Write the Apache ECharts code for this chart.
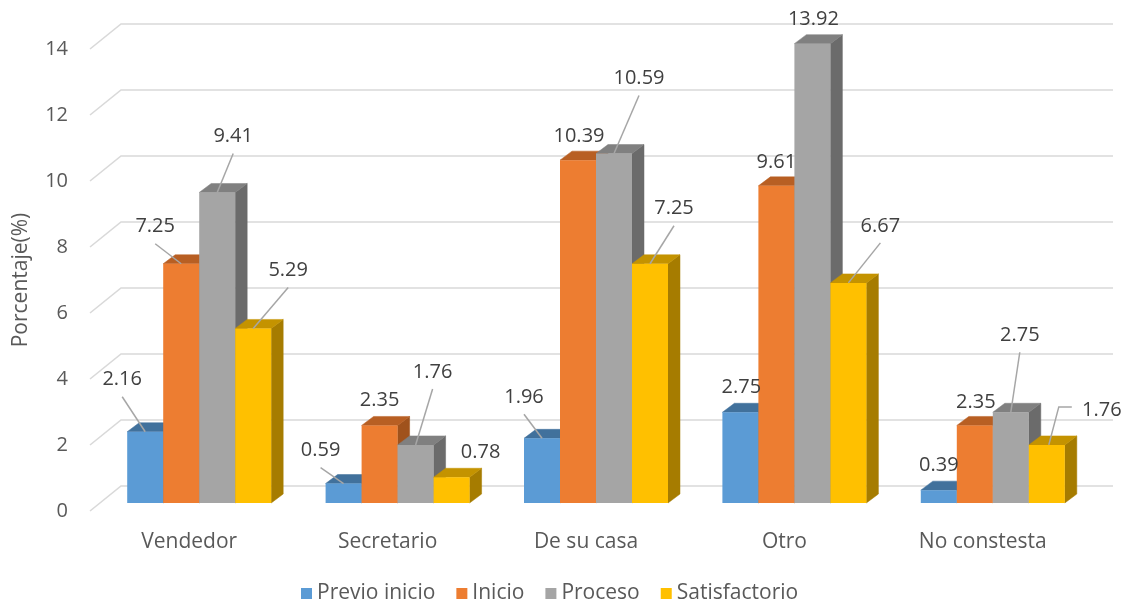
<!DOCTYPE html>
<html>
<head>
<meta charset="utf-8">
<script src="https://cdn.jsdelivr.net/npm/echarts@6/dist/echarts.min.js"></script>
<style>
html,body{margin:0;padding:0;background:#fff;}
#chart{width:1127px;height:605px;}
</style>
</head>
<body>
<div id="chart"></div>
<script>
// ---- data ----
const categories = ['Vendedor', 'Secretario', 'De su casa', 'Otro', 'No constesta'];
const seriesNames = ['Previo inicio', 'Inicio', 'Proceso', 'Satisfactorio'];
const previoInicio = [2.16, 0.59, 1.96, 2.75, 0.39];
const inicio = [7.25, 2.35, 10.39, 9.61, 2.35];
const proceso = [9.41, 1.76, 10.59, 13.92, 2.75];
const satisfactorio = [5.29, 0.78, 7.25, 6.67, 1.76];
const yTicks = [0, 2, 4, 6, 8, 10, 12, 14];
const axisTitle = 'Porcentaje(%)';

// ---- styling / layout (not data) ----
const FONT = '"Open Sans", "Liberation Sans", sans-serif';
const palette = [
  { front: '#5B9BD5', top: '#41719C', side: '#3A6890' },
  { front: '#ED7D31', top: '#B85F23', side: '#A0521C' },
  { front: '#A5A5A5', top: '#808080', side: '#6B6B6B' },
  { front: '#FFC000', top: '#C49300', side: '#A67C00' }
];
const FRONT_TO_BAR = [10, -8];   // projection: front plane -> bar plane
const BAR_DEPTH = [12, -9];      // bar depth projection
const WALL = [31, -25];          // front plane -> back wall
const BAR_RATIO = 36 / 198.4;    // bar width / category band
// label offsets from bar top-front centre: [dx, dy, leaderType] (0 none, 1 from below, 2 elbow from left)
const labelLayout = [
  [[-23, -52, 1], [-23, -33, 1], [-18, -41, 1], [1, -25, 0], [0, -25, 0]],
  [[-26, -37, 1], [0, -25, 0], [1, -24, 0], [0, -24, 0], [1, -23, 0]],
  [[16, -56, 1], [17, -73, 1], [25, -75, 1], [1, -24, 0], [9, -77, 1]],
  [[35, -58, 1], [29, -25, 0], [24, -55, 1], [32, -57, 1], [55, -35, 2]]
];

const allValues = [previoInicio, inicio, proceso, satisfactorio];

function barGeom(api, ci, v, si) {
  const base = api.coord([ci, 0]);
  const tp = api.coord([ci, v]);
  const band = api.size([1, 0])[0];
  const bw = band * BAR_RATIO;
  const x0 = base[0] + FRONT_TO_BAR[0] - 2 * bw + si * bw;
  return { x0: x0, x1: x0 + bw, bw: bw, yb: base[1] + FRONT_TO_BAR[1], yt: tp[1] + FRONT_TO_BAR[1] };
}

function makeBarRender(si) {
  const c = palette[si];
  return function (params, api) {
    const g = barGeom(api, api.value(0), api.value(1), si);
    const dx = BAR_DEPTH[0], dy = BAR_DEPTH[1];
    return {
      type: 'group',
      children: [
        { type: 'polygon', shape: { points: [[g.x1, g.yb], [g.x1 + dx, g.yb + dy], [g.x1 + dx, g.yt + dy], [g.x1, g.yt]] },
          style: { fill: c.side, stroke: c.side, lineWidth: 0.5 } },
        { type: 'polygon', shape: { points: [[g.x0, g.yt], [g.x1, g.yt], [g.x1 + dx, g.yt + dy], [g.x0 + dx, g.yt + dy]] },
          style: { fill: c.top, stroke: c.top, lineWidth: 0.5 } },
        { type: 'rect', shape: { x: g.x0, y: g.yt, width: g.bw, height: g.yb - g.yt },
          style: { fill: c.front } }
      ]
    };
  };
}

function gridRender(params, api) {
  const v = api.value(1);
  const cs = params.coordSys;
  const p = api.coord([0, v]);
  const xl = cs.x, xr = cs.x + cs.width, y = p[1];
  return {
    type: 'polyline',
    shape: { points: [[xl, y], [xl + WALL[0], y + WALL[1]], [xr + WALL[0], y + WALL[1]]] },
    style: { stroke: '#D9D9D9', lineWidth: 1.6, fill: null }
  };
}

function labelRender(params, api) {
  const ci = api.value(0), v = api.value(1), si = api.value(2);
  const g = barGeom(api, ci, v, si);
  const cx = (g.x0 + g.x1) / 2;
  const lay = labelLayout[si][ci];
  const lx = cx + lay[0], ly = g.yt + lay[1];
  const children = [{
    type: 'text', x: lx, y: ly,
    style: { text: v.toFixed(2), fill: '#404040', font: '20px ' + FONT, align: 'center', verticalAlign: 'middle' }
  }];
  if (lay[2] === 1) {
    children.unshift({ type: 'line', shape: { x1: lx, y1: ly + 17, x2: cx, y2: g.yt },
      style: { stroke: '#A6A6A6', lineWidth: 1.5 } });
  } else if (lay[2] === 2) {
    children.unshift({ type: 'polyline', shape: { points: [[lx - 30, ly - 3], [lx - 43, ly - 3], [cx + 2, g.yt]] },
      style: { stroke: '#A6A6A6', lineWidth: 1.5, fill: null } });
  }
  return { type: 'group', children: children };
}

const series = [{
  type: 'custom', name: '_grid', silent: true, renderItem: gridRender,
  data: yTicks.map(function (t) { return [0, t]; }), z: 1
}];
allValues.forEach(function (vals, si) {
  series.push({
    type: 'custom', name: seriesNames[si], renderItem: makeBarRender(si),
    itemStyle: { color: palette[si].front },
    data: vals.map(function (v, ci) { return [ci, v]; }),
    clip: false, z: 2
  });
});
const labelData = [];
allValues.forEach(function (vals, si) {
  vals.forEach(function (v, ci) { labelData.push([ci, v, si]); });
});
series.push({ type: 'custom', name: '_labels', silent: true, renderItem: labelRender, data: labelData, clip: false, z: 5 });

const chart = echarts.init(document.getElementById('chart'));
chart.setOption({
  animation: false,
  backgroundColor: '#ffffff',
  textStyle: { fontFamily: FONT },
  grid: { left: 90, top: 49, width: 992, bottom: 94 },
  legend: {
    data: seriesNames,
    left: 296, top: 578,
    icon: 'rect', itemWidth: 11, itemHeight: 11, itemGap: 21,
    textStyle: { fontSize: 21, color: '#595959', fontFamily: FONT }
  },
  xAxis: {
    type: 'category', data: categories, boundaryGap: true,
    axisLine: { show: false }, axisTick: { show: false }, splitLine: { show: false },
    axisLabel: { fontSize: 21, color: '#595959', margin: 21, fontFamily: FONT }
  },
  yAxis: {
    type: 'value', min: 0, max: 14, interval: 2,
    name: axisTitle, nameLocation: 'middle', nameGap: 58, nameRotate: 90,
    nameTextStyle: { fontSize: 21, color: '#595959', fontFamily: FONT },
    axisLine: { show: false }, axisTick: { show: false }, splitLine: { show: false },
    axisLabel: { fontSize: 20, color: '#595959', margin: 22, fontFamily: FONT }
  },
  series: series
});
</script>
</body>
</html>
